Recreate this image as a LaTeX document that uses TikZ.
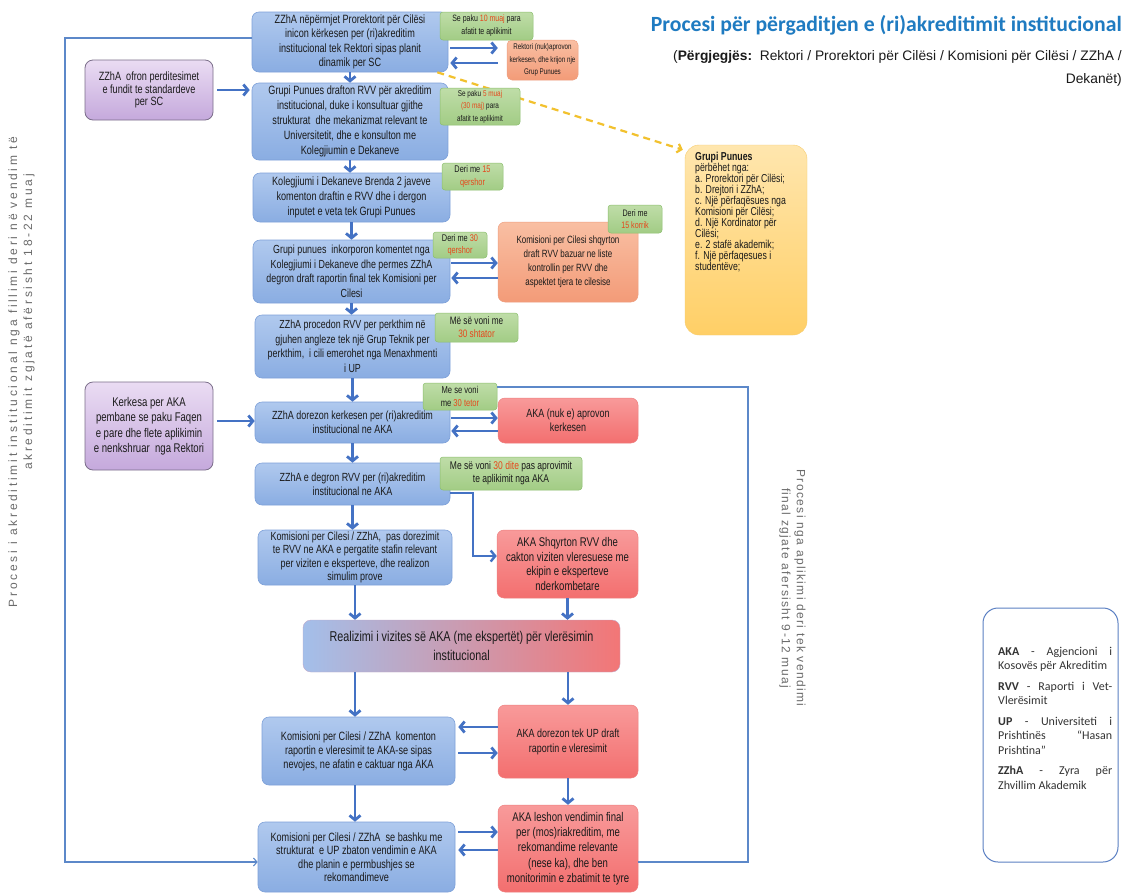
\documentclass[tikz,border=0pt]{standalone}
\usepackage{fontspec}
\setmainfont{Liberation Sans}
\newfontfamily\nar{Liberation Sans}[FakeStretch=0.76]
\newfontfamily\arl{Liberation Sans}
\newfontfamily\calfont{Carlito}
\newfontfamily\vtfa{Liberation Sans}[LetterSpace=23]
\newfontfamily\vtfb{Liberation Sans}[LetterSpace=11.5]
\usetikzlibrary{arrows.meta}
\definecolor{txt}{HTML}{1A1A1A}
\definecolor{bluetop}{HTML}{B0C9EE}
\definecolor{bluebot}{HTML}{8AADE2}
\definecolor{bluedraw}{HTML}{7EA1D9}
\definecolor{orangetop}{HTML}{F9BFA3}
\definecolor{orangebot}{HTML}{F39B78}
\definecolor{orangedraw}{HTML}{EE9F80}
\definecolor{redtop}{HTML}{F89A9A}
\definecolor{redbot}{HTML}{F36F6F}
\definecolor{reddraw}{HTML}{EE8080}
\definecolor{greentop}{HTML}{BFDDA8}
\definecolor{greenbot}{HTML}{A2CC85}
\definecolor{greendraw}{HTML}{8CBF6E}
\definecolor{purpletop}{HTML}{EADCF3}
\definecolor{purplebot}{HTML}{C5A9DC}
\definecolor{purpledraw}{HTML}{7B6E8A}
\definecolor{ytop}{HTML}{FFE6AE}
\definecolor{ybot}{HTML}{FFCF66}
\definecolor{ydraw}{HTML}{F6CD70}
\definecolor{gbl}{HTML}{A3BFEA}
\definecolor{gbr}{HTML}{F37676}
\definecolor{gbdraw}{HTML}{C0A8C8}
\definecolor{arrowblue}{HTML}{4472C4}
\definecolor{thinblue}{HTML}{5C88C9}
\definecolor{dashgold}{HTML}{F2C12E}
\definecolor{numred}{HTML}{E5481C}
\definecolor{titleblue}{HTML}{1F7BC1}
\definecolor{vgray}{HTML}{6B6B6B}
\definecolor{legdraw}{HTML}{5B80C3}
\definecolor{legtxt}{HTML}{333333}
\newcommand\rd[1]{\textcolor{numred}{#1}}
\newcommand\fs[2]{\fontsize{#1}{#2}\selectfont\lineskiplimit=-20pt\relax}
\begin{document}
\begin{tikzpicture}[x=1pt,y=-1pt,
  box/.style={rounded corners=7pt, inner sep=0pt, align=center, text=txt, font=\nar\fs{12}{14.5}},
  bbox/.style={box, draw=bluedraw, line width=0.6pt, top color=bluetop, bottom color=bluebot},
  obox/.style={box, draw=orangedraw, line width=0.5pt, top color=orangetop, bottom color=orangebot},
  rbox/.style={box, draw=reddraw, line width=0.5pt, top color=redtop, bottom color=redbot},
  gbox/.style={box, rounded corners=3pt, draw=greendraw, line width=0.5pt, top color=greentop, bottom color=greenbot, font=\nar\fs{9.7}{12.5}},
  pbox/.style={box, rounded corners=8pt, draw=purpledraw, line width=0.8pt, top color=purpletop, bottom color=purplebot},
  sz/.style 2 args={minimum width=#1, minimum height=#2},
  barrow/.style={draw=arrowblue, line width=2.8pt, -{Straight Barb[length=4.5pt,width=11pt]}},
  tline/.style={draw=thinblue, line width=1.1pt},
  dline/.style={draw=dashgold, line width=2.2pt, dash pattern=on 7pt off 5pt, -{Straight Barb[length=4pt,width=9pt]}}
]
\fill[white] (0,0) rectangle (1125,895);
\useasboundingbox (0,0) rectangle (1125,895);

% title
\node[anchor=east, inner sep=0pt, font=\calfont\bfseries\fs{21.7}{24}, text=titleblue] (T) at (1122,25) {Procesi për përgaditjen e (ri)akreditimit institucional};
\node[anchor=north east, inner sep=0pt, align=right, font=\arl\fs{13.8}{23}, text=txt] (ST) at (1122,50) {(\textbf{Përgjegjës:}\ \ Rektori / Prorektori për Cilësi / Komisioni për Cilësi / ZZhA /\\Dekanët)};

% vertical texts
\node[rotate=90, inner sep=0pt, font=\vtfa\fs{12}{15}, text=vgray] (V1a) at (14,372) {Procesi i akreditimit institucional nga fillimi deri në vendim të};
\node[rotate=90, inner sep=0pt, font=\vtfa\fs{12}{15}, text=vgray] (V1b) at (29,322) {akreditimit zgjatë afërsisht 18-22 muaj};
\node[rotate=-90, inner sep=0pt, align=center, font=\vtfb\fs{12}{15}, text=vgray] (V2) at (792.5,588) {Procesi nga aplikimi deri tek vendimi\\final zgjate afersisht 9-12 muaj};

% bracket lines
\coordinate (LBt) at (65,38);
\coordinate (LBb) at (65,862);
\coordinate (RBt) at (748,387);
\coordinate (RBb) at (748,862);

% main column
\node[bbox, sz={196pt}{60pt}] (B1) at (350,42) {ZZhA nëpërmjet Prorektorit për Cilësi\\inicon kërkesen per (ri)akreditim\\institucional tek Rektori sipas planit\\dinamik per SC};
\node[bbox, sz={196pt}{77pt}, font=\nar\fs{12}{15}] (B2) at (350,121.5) {Grupi Punues drafton RVV për akreditim\\institucional, duke i konsultuar gjithe\\strukturat\ \ dhe mekanizmat relevant te\\Universitetit, dhe e konsulton me\\Kolegjiumin e Dekaneve};
\node[bbox, sz={197pt}{49pt}, font=\nar\fs{12}{15}] (B3) at (351.5,197.5) {Kolegjiumi i Dekaneve Brenda 2 javeve\\komenton draftin e RVV dhe i dergon\\inputet e veta tek Grupi Punues};
\node[bbox, sz={197pt}{63pt}, font=\nar\fs{11.7}{14.5}] (B4) at (351.5,271.5) {Grupi punues\ \ inkorporon komentet nga\\Kolegjiumi i Dekaneve dhe permes ZZhA\\degron draft raportin final tek Komisioni per\\Cilesi};
\node[bbox, sz={195pt}{63pt}, font=\nar\fs{11.7}{14.5}] (B5) at (352.5,346.5) {ZZhA procedon RVV per perkthim në\\gjuhen angleze tek një Grup Teknik per\\perkthim,\ \ i cili emerohet nga Menaxhmenti\\i UP};
\node[bbox, sz={195pt}{41pt}, font=\nar\fs{11.8}{14}] (B6) at (352.5,422.5) {ZZhA dorezon kerkesen per (ri)akreditim\\institucional ne AKA};
\node[bbox, sz={195pt}{42pt}, font=\nar\fs{11.8}{14}] (B7) at (352.5,484) {ZZhA e degron RVV per (ri)akreditim\\institucional ne AKA};
\node[bbox, sz={194pt}{55pt}, font=\nar\fs{11.8}{13.5}] (B8) at (355,557.5) {Komisioni per Cilesi / ZZhA,\ \ pas dorezimit\\te RVV ne AKA e pergatite stafin relevant\\per viziten e eksperteve, dhe realizon\\simulim prove};
\node[box, rounded corners=8pt, sz={317pt}{52pt}, left color=gbl, right color=gbr, draw=gbdraw, line width=0.4pt, font=\nar\fs{14.2}{19}] (GR) at (461.5,646) {Realizimi i vizites së AKA (me ekspertët) për vlerësimin\\institucional};
\node[bbox, sz={193pt}{68pt}, font=\nar\fs{12}{14}] (B9) at (358.5,751) {Komisioni per Cilesi / ZZhA\ \ komenton\\raportin e vleresimit te AKA-se sipas\\nevojes, ne afatin e caktuar nga AKA};
\node[bbox, sz={197pt}{70pt}, font=\nar\fs{12}{13.5}] (B10) at (356.5,857) {Komisioni per Cilesi / ZZhA\ \ se bashku me\\strukturat\ \ e UP zbaton vendimin e AKA\\dhe planin e permbushjes se\\rekomandimeve};

% right column
\node[obox, rounded corners=5pt, sz={71pt}{40pt}, font=\nar\fs{8.2}{12.5}] (O1) at (542.5,60) {Rektori (nuk)aprovon\\kerkesen, dhe krijon nje\\Grup Punues};
\node[obox, sz={140pt}{80pt}, font=\nar\fs{10.5}{14}] (O2) at (568,262) {Komisioni per Cilesi shqyrton\\draft RVV bazuar ne liste\\kontrollin per RVV dhe\\aspektet tjera te cilesise};
\node[rbox, sz={140pt}{45pt}, font=\nar\fs{11.8}{14}] (R1) at (568,420.5) {AKA (nuk e) aprovon\\kerkesen};
\node[rbox, sz={141pt}{68pt}, font=\nar\fs{12.6}{14.5}] (R2) at (567.5,564) {AKA Shqyrton RVV dhe\\cakton viziten vleresuese me\\ekipin e eksperteve\\nderkombetare};
\node[rbox, sz={140pt}{73pt}, font=\nar\fs{11.8}{15}] (R3) at (568,741.5) {AKA dorezon tek UP draft\\raportin e vleresimit};
\node[rbox, sz={140pt}{87pt}, font=\nar\fs{12.6}{15.3}] (R4) at (568,848.5) {AKA leshon vendimin final\\per (mos)riakreditim, me\\rekomandime relevante\\(nese ka), dhe ben\\monitorimin e zbatimit te tyre};

% purple
\node[pbox, sz={128pt}{60pt}, font=\nar\fs{12}{12.5}] (P1) at (149,90) {ZZhA\ \ ofron perditesimet\\e fundit te standardeve\\per SC};
\node[pbox, sz={128pt}{88pt}, font=\nar\fs{12.6}{15.5}] (P2) at (149,426) {Kerkesa per AKA\\pembane se paku Faqen\\e pare dhe flete aplikimin\\e nenkshruar\ \ nga Rektori};

% yellow
\node[rounded corners=14pt, sz={122pt}{190pt}, top color=ytop, bottom color=ybot, draw=ydraw, line width=0.4pt] (Y) at (746,240) {};
\node[anchor=north west, inner sep=0pt, align=left, font=\nar\fs{11.5}{11}, text=txt] (YT) at (695,152) {\textbf{Grupi Punues}\\përbëhet nga:\\a. Prorektori për Cilësi;\\b. Drejtori i ZZhA;\\c. Një përfaqësues nga\\Komisioni për Cilësi;\\d. Një Kordinator për\\Cilësi;\\e. 2 stafë akademik;\\f. Një përfaqesues i\\studentëve;};

% legend
\node[draw=legdraw, line width=1pt, rounded corners=15pt, fill=white, sz={135pt}{254pt}] (LG) at (1050.5,735) {};
\node[anchor=north west, inner sep=0pt, align=left, font=\calfont\fs{12}{14.5}, text=legtxt] (LGT) at (998,647) {\makebox[114pt][s]{\textbf{AKA} - Agjencioni i}\\Kosovës për Akreditim\\[6pt]\makebox[114pt][s]{\textbf{RVV} - Raporti i Vet-}\\Vlerësimit\\[6pt]\makebox[114pt][s]{\textbf{UP} - Universiteti i}\\\makebox[114pt][s]{Prishtinës “Hasan}\\Prishtina”\\[6pt]\makebox[114pt][s]{\textbf{ZZhA} - Zyra për}\\Zhvillim Akademik};

% connectors
\draw[tline, -{Straight Barb[length=3.5pt,width=8pt]}] (B1.west |- LBt) -- (LBt) -- (LBb) -- (B10.west |- LBb);
\draw[dline] ([xshift=-11pt]B1.south east) -- ([xshift=-2pt,yshift=-5pt]Y.north west);

\draw[barrow] (B1.south) -- (B1.south |- B2.north);
\draw[barrow] (B2.south) -- (B2.south |- B3.north);
\draw[barrow] (B3.south) -- (B3.south |- B4.north);
\draw[barrow] (B4.south) -- (B4.south |- B5.north);
\draw[barrow] (B5.south) -- (B5.south |- B6.north);
\draw[barrow] (B6.south) -- (B6.south |- B7.north);
\draw[barrow] (B7.south) -- (B7.south |- B8.north);
\draw[barrow] (B8.south) -- (B8.south |- GR.north);
\draw[barrow] (R2.south) -- (R2.south |- GR.north);
\draw[barrow] (GR.south -| B8.south) -- (B8.south |- B9.north);
\draw[barrow] (GR.south -| R3.north) -- (R3.north);
\draw[barrow] (B9.south -| B8.south) -- (B8.south |- B10.north);
\draw[barrow] (R3.south) -- (R4.north);

\draw[barrow, shorten <=2pt, shorten >=9pt] (B1.east |- 0,48) -- (O1.west |- 0,48);
\draw[barrow, shorten <=9pt, shorten >=2pt] (O1.west |- 0,63) -- (B1.east |- 0,63);
\draw[barrow, shorten <=1pt] (B4.east |- 0,263) -- (O2.west |- 0,263);
\draw[barrow, shorten >=1pt] (O2.west |- 0,278) -- (B4.east |- 0,278);
\draw[barrow, shorten <=1pt] (B6.east |- 0,418) -- (R1.west |- 0,418);
\draw[barrow, shorten >=1pt] (R1.west |- 0,431) -- (B6.east |- 0,431);
\draw[barrow, shorten >=3pt] (R3.west |- 0,727) -- (B9.east |- 0,727);
\draw[barrow, shorten <=3pt] (B9.east |- 0,753) -- (R3.west |- 0,753);
\draw[barrow, shorten <=3pt] (B10.east |- 0,832) -- (R4.west |- 0,832);
\draw[barrow, shorten >=3pt] (R4.west |- 0,850) -- (B10.east |- 0,850);
\draw[barrow, shorten <=4pt, shorten >=2pt] (P1.east |- 0,90) -- (B2.west |- 0,90);
\draw[barrow, shorten <=4pt] (P2.east |- 0,421) -- (B6.west |- 0,421);
\coordinate (E1) at (473,493);
\coordinate (E2) at (473,556);
\draw[barrow, line width=2.4pt] (B7.east |- E1) -- (E1) -- (E2) -- (R2.west |- E2);

% green notes
\node[gbox, sz={93pt}{28pt}, font=\nar\fs{9.2}{13}] (G1) at (486.5,26) {Se paku \rd{10 muaj} para\\afatit te aplikimit};
\node[gbox, sz={80pt}{37pt}, font=\nar\fs{8.4}{12.5}] (G2) at (480,106.5) {Se paku \rd{5 muaj}\\\rd{(30 maj)} para\\afatit te aplikimit};
\node[gbox, sz={61pt}{27pt}] (G3) at (472.5,176.5) {Deri me \rd{15}\\\rd{qershor}};
\node[gbox, sz={54pt}{26pt}] (G4) at (460,245) {Deri me \rd{30}\\\rd{qershor}};
\node[gbox, sz={54pt}{28pt}, font=\nar\fs{9.4}{12}] (G5) at (635,219) {Deri me\\\rd{15 korrik}};
\node[gbox, sz={83pt}{29pt}, font=\nar\fs{10.8}{13}] (G6) at (476.5,327.5) {Më së voni me\\\rd{30 shtator}};
\node[gbox, sz={74pt}{27pt}, font=\nar\fs{10}{12.5}] (G7) at (460,396.5) {Me se voni\\me \rd{30 tetor}};
\node[gbox, sz={142pt}{33pt}, font=\nar\fs{11.2}{13}] (G8) at (511,473.5) {Me së voni \rd{30 dite} pas aprovimit\\te aplikimit nga AKA};

\draw[tline] (G7.east |- RBt) -- (RBt) -- (RBb) -- (R4.east |- RBb);
\end{tikzpicture}
\end{document}
